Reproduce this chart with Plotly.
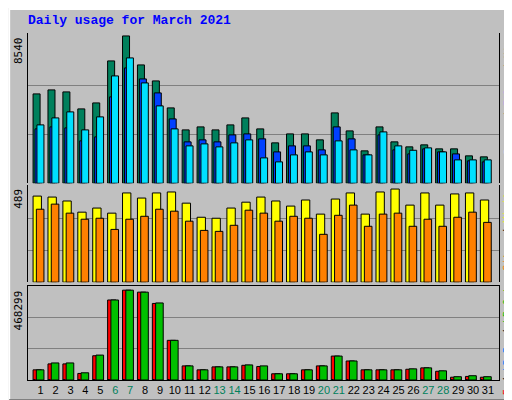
import plotly.graph_objects as go

days = list(range(1, 32))
hits = [5180,5412,5296,4311,4658,7092,8540,6860,5933,4369,3094,3268,3094,3384,3789,3152,2341,2862,2862,2515,4079,3036,1877,3268,2399,2109,2225,1993,1993,1588,1530]
files = [3152,3268,3210,2457,2688,5006,6686,6049,5238,3731,2399,2515,2399,2804,2862,2573,1819,2167,2167,1935,3268,2573,1646,2804,1935,1703,1993,1819,1703,1298,1240]
pages = [3384,3789,4137,3094,3847,6223,7266,5817,4485,3152,2167,2283,2109,2341,2515,1472,1240,1646,1819,1646,2457,1935,1646,2978,2167,1912,2051,1819,1356,1356,1356]
visits = [439,434,414,357,378,352,455,429,455,460,403,331,326,378,408,434,414,388,419,347,424,455,347,460,475,393,455,393,450,455,419]
sites = [372,398,352,321,326,269,321,336,372,362,311,264,259,290,367,352,311,336,326,244,341,393,285,347,352,285,321,285,331,357,305]
kb_out = [51120,85750,85750,36280,125300,402400,451800,441900,387500,199500,70900,51120,65960,65960,75850,70900,31330,31330,51120,70900,120400,95640,51120,51120,51120,56070,61010,46170,16490,21440,16490]
kb_f = [51120,81000,81000,33000,122000,402400,451800,441900,385000,199500,70900,51120,65960,65960,74000,68000,31330,31330,51120,70900,120400,95640,51120,51120,51120,54000,61010,44000,14000,18000,14000]
kb_in = [2000]*31
weekends = [6, 7, 13, 14, 20, 21, 27, 28]
max_hits, max_visits, max_kb = 8540, 489, 468299

line = dict(color="black", width=1)
fig = go.Figure()

def bar(y, color, offset, width, ax):
    fig.add_bar(x=days, y=y, marker=dict(color=color, line=line), offset=offset,
                width=width, xaxis="x", yaxis=ax, showlegend=False, hoverinfo="skip")

bar(hits, "#00805c", -0.51, 0.47, "y")
bar(files, "#0040ff", -0.38, 0.47, "y")
bar(pages, "#00e0ff", -0.25, 0.47, "y")
bar(visits, "#ffff00", -0.51, 0.56, "y2")
bar(sites, "#ff8000", -0.29, 0.51, "y2")
bar(kb_f, "#ff0000", -0.51, 0.56, "y3")
bar(kb_in, "#0040ff", -0.49, 0.1, "y3")
bar(kb_out, "#00c000", -0.29, 0.51, "y3")

ticktext = [f'<span style="color:#00805c">{d}</span>' if d in weekends else str(d) for d in days]
grid = dict(showgrid=True, gridcolor="#808080", gridwidth=1, showticklabels=False,
            ticks="", zeroline=False, showline=True, linecolor="black", mirror=True)
fig.update_layout(
    width=512, height=400, barmode="overlay",
    paper_bgcolor="#c0c0c0", plot_bgcolor="#c0c0c0",
    margin=dict(l=20, r=21, t=25, b=24),
    font=dict(family="Liberation Sans", size=11, color="black"),
    xaxis=dict(range=[0.15, 31.74], tickvals=days, ticktext=ticktext, ticks="",
               tickangle=0, showgrid=False, showline=True, linecolor="black", mirror=True,
               anchor="y3", tickfont=dict(family="Liberation Sans", size=11), zeroline=False),
    yaxis=dict(domain=[0.567, 1.0], range=[0, max_hits * 1.02],
               tickvals=[max_hits / 3, max_hits * 2 / 3], **grid),
    yaxis2=dict(domain=[0.282, 0.561], range=[0, max_visits * 1.01],
                tickvals=[max_visits / 3, max_visits * 2 / 3], **grid),
    yaxis3=dict(domain=[0.0, 0.271], range=[0, max_kb * 1.01],
                tickvals=[max_kb / 3, max_kb * 2 / 3], **grid),
)

fig.add_annotation(text="<b>Daily usage for March 2021</b>", x=0, y=1.0, xref="paper", yref="paper",
                   xanchor="left", yanchor="bottom", xshift=-2, yshift=3, showarrow=False,
                   font=dict(family="Liberation Mono", size=13, color="#0000ff"))
for ax, val in [("y", "8540"), ("y2", "489"), ("y3", "468299")]:
    fig.add_annotation(text=val, textangle=-90, x=0, y=1, xref="paper", yref=f"{ax} domain",
                       xanchor="right", yanchor="top", xshift=-1, yshift=-2, showarrow=False,
                       font=dict(family="DejaVu Sans Mono", size=11, color="black"))
mono = dict(family="DejaVu Sans Mono", size=10)
right = [
    ("y", '<span style="color:#00e0ff">Pages</span> / <span style="color:#0040ff">Files</span> / <span style="color:#00805c">Hits</span>'),
    ("y2", '<span style="color:#ff8000">Sites</span> / <span style="color:#ffff00">Visits</span>'),
    ("y3", '<span style="color:#ff0000">kB F</span> / <span style="color:#0080ff">kB In</span> / <span style="color:#00c000">kB Out</span>'),
]
for ax, txt in right:
    fig.add_annotation(text=txt, textangle=-90, x=1, y=1, xref="paper", yref=f"{ax} domain",
                       xanchor="left", yanchor="top", xshift=1, yshift=0, showarrow=False,
                       font=dict(color="black", **mono))
fig.add_shape(type="rect", xref="paper", yref="paper", x0=-0.040, x1=1.036, y0=-0.06, y1=1.069,
              line=dict(color="white", width=2), layer="below")
fig.add_shape(type="line", xref="paper", yref="paper", x0=1.036, x1=1.036, y0=-0.06, y1=1.069,
              line=dict(color="#808080", width=5))
fig.add_shape(type="line", xref="paper", yref="paper", x0=-0.040, x1=1.036, y0=-0.062, y1=-0.062,
              line=dict(color="#808080", width=5))
fig.write_html("out.html")
